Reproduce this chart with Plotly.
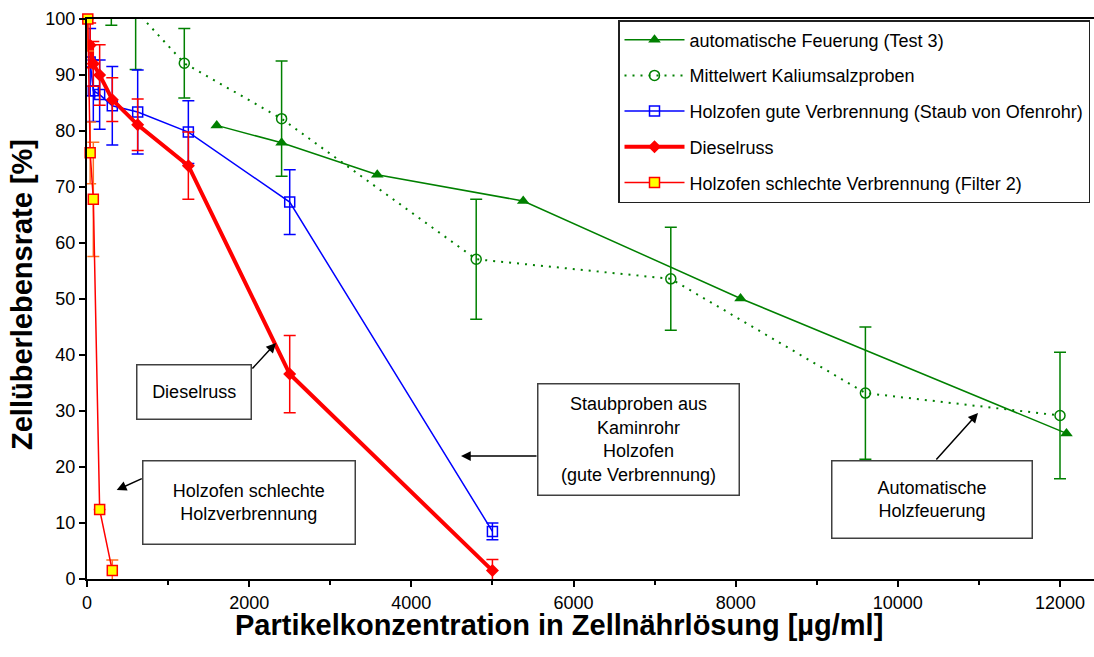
import plotly.graph_objects as go

# ---------------- data ----------------
auto_x = [1600, 2400, 3580, 5380, 8060, 12080]
auto_y = [81.0, 77.9, 72.2, 67.5, 50.1, 26.0]

kal_x = [300, 600, 1200, 2400, 4800, 7200, 9600, 12000]
kal_y = [105.0, 101.5, 92.1, 82.2, 57.1, 53.6, 33.2, 29.2]
kal_err = [6.1, 10.5, 6.2, 10.3, 10.7, 9.2, 11.8, 11.3]

gut_x = [39, 78, 156, 312, 625, 1250, 2500, 5000]
gut_y = [92.3, 87.2, 86.5, 84.5, 83.4, 79.8, 67.3, 8.5]
gut_err = [6.0, 5.5, 6.2, 7.0, 7.5, 5.6, 5.8, 1.5]

diesel_x = [39, 78, 156, 312, 625, 1250, 2500, 5000]
diesel_y = [95.3, 92.0, 90.0, 85.6, 81.1, 73.8, 36.6, 1.5]
diesel_err = [4.0, 4.0, 5.4, 3.9, 4.6, 6.0, 6.9, 2.0]

schl_x = [10, 39, 78, 156, 312]
schl_y = [100.0, 76.1, 67.8, 12.4, 1.5]
schl_err_plus = [0.0, 5.5, 10.2, 0.0, 1.9]
schl_err_minus = [5.7, 5.5, 10.2, 0.0, 1.9]

names = [
    "automatische Feuerung (Test 3)",
    "Mittelwert Kaliumsalzproben",
    "Holzofen gute Verbrennung (Staub von Ofenrohr)",
    "Dieselruss",
    "Holzofen schlechte Verbrennung (Filter 2)",
]

x_ticks = [0, 2000, 4000, 6000, 8000, 10000, 12000]
x_ticktext = ["0", "2000", "4000", "6000", "8000", "10000", "12000"]
y_ticks = [0, 10, 20, 30, 40, 50, 60, 70, 80, 90, 100]

x_title = "Partikelkonzentration in Zellnährlösung [µg/ml]"
y_title = "Zellüberlebensrate [%]"

# ---------------- layout helpers ----------------
W, H = 1094, 657
L, R, T, B = 87, 0, 19, 78
plot_w = W - L - R
plot_h = H - T - B
FONT = "Liberation Sans, Arial, sans-serif"


def px(xp):
    return (xp - L) / plot_w


def py(yp):
    return (H - B - yp) / plot_h


GREEN = "#008000"
BLUE = "#0000FF"
RED = "#FF0000"
ORANGE = "#FF7020"

fig = go.Figure()

fig.add_trace(go.Scatter(
    x=auto_x, y=auto_y, name=names[0], mode="lines+markers", legendgroup="a",
    line=dict(color=GREEN, width=1.5),
    marker=dict(symbol="triangle-up", size=11, color=GREEN),
))
fig.add_trace(go.Scatter(
    x=kal_x, y=kal_y, name=names[1], mode="lines+markers", legendgroup="b",
    line=dict(color=GREEN, width=2, dash="2px,6px"),
    marker=dict(symbol="circle-open", size=10, color=GREEN, line=dict(width=1.5)),
    error_y=dict(type="data", array=kal_err, visible=True, color=GREEN, thickness=1.5, width=6),
))
fig.add_trace(go.Scatter(
    x=gut_x, y=gut_y, name=names[2], mode="lines+markers", legendgroup="c",
    line=dict(color=BLUE, width=1.5),
    marker=dict(symbol="square-open", size=10, color=BLUE, line=dict(width=1.5)),
    error_y=dict(type="data", array=gut_err, visible=True, color=BLUE, thickness=1.5, width=6),
))
fig.add_trace(go.Scatter(
    x=diesel_x, y=diesel_y, name=names[3], mode="lines+markers", legendgroup="d",
    line=dict(color=RED, width=4),
    marker=dict(symbol="diamond", size=10, color=RED),
    error_y=dict(type="data", array=diesel_err, visible=True, color=RED, thickness=1.5, width=6),
))
fig.add_trace(go.Scatter(
    x=schl_x, y=schl_y, name=names[4], mode="lines+markers", legendgroup="e",
    line=dict(color=RED, width=1.5), cliponaxis=False,
    marker=dict(symbol="square", size=10, color="#FFFF00", line=dict(color=RED, width=1.5)),
    error_y=dict(type="data", symmetric=False, array=schl_err_plus, arrayminus=schl_err_minus,
                 visible=True, color=ORANGE, thickness=1.5, width=6),
))

annotations = []
# axis titles
annotations.append(dict(
    text="<b>%s</b>" % x_title, x=px(559), y=py(625), xref="paper", yref="paper",
    xanchor="center", yanchor="middle",
    showarrow=False, font=dict(size=29, color="black", family=FONT),
))
annotations.append(dict(
    text="<b>%s</b>" % y_title, x=px(22), y=py(295), xref="paper", yref="paper",
    xanchor="center", yanchor="middle",
    showarrow=False, textangle=-90, font=dict(size=29, color="black", family=FONT),
))

# text boxes
boxes = [
    ("Dieselruss", 137.7, 251, 365.7, 418.3),
    ("Holzofen schlechte<br>Holzverbrennung", 143.3, 354, 461.7, 544),
    ("Staubproben aus<br>Kaminrohr<br>Holzofen<br>(gute Verbrennung)", 538, 738, 384, 494),
    ("Automatische<br>Holzfeuerung", 832, 1031, 461, 537),
]
for txt, x0, x1, y0, y1 in boxes:
    annotations.append(dict(
        text=txt, x=px((x0 + x1) / 2), y=py((y0 + y1) / 2), xref="paper", yref="paper",
        xanchor="center", yanchor="middle", showarrow=False,
        width=x1 - x0, height=y1 - y0, borderpad=0,
        bordercolor="#404040", borderwidth=1.5, bgcolor="white",
        font=dict(size=18, color="black", family=FONT),
    ))

# arrows (tail -> head)
arrows = [
    ((251, 370), (276, 343)),
    ((143.3, 478), (116.7, 490)),
    ((538, 456), (461, 456)),
    ((935, 461), (978, 413)),
]
for (tx, ty), (hx, hy) in arrows:
    annotations.append(dict(
        text="", x=px(hx), y=py(hy), xref="paper", yref="paper",
        ax=tx - hx, ay=ty - hy, showarrow=True,
        arrowhead=2, arrowsize=1.3, arrowwidth=1.5, arrowcolor="black",
    ))

x_max = 12000 * plot_w / (1060 - L)

fig.update_layout(
    width=W, height=H,
    margin=dict(l=L, r=R, t=T, b=B, autoexpand=False),
    paper_bgcolor="white", plot_bgcolor="white",
    font=dict(family=FONT, size=18, color="black"),
    showlegend=True,
    legend=dict(
        x=px(618), y=py(20), xanchor="left", yanchor="top",
        bordercolor="#202020", borderwidth=1.5, bgcolor="white",
        font=dict(size=18, family=FONT), tracegroupgap=9.3, itemwidth=60,
    ),
    annotations=annotations,
    xaxis=dict(
        range=[0, x_max], showline=True, linecolor="black", linewidth=2, mirror=True,
        ticks="outside", ticklen=6, tickwidth=1.5, tickcolor="black",
        tickvals=x_ticks, ticktext=x_ticktext,
        showgrid=False, zeroline=False,
        minor=dict(tickvals=[1000, 3000, 5000, 7000, 9000, 11000], ticks="outside", ticklen=4, tickcolor="black"),
        tickfont=dict(size=18, family=FONT),
    ),
    yaxis=dict(
        range=[0, 100], showline=True, linecolor="black", linewidth=2,
        ticks="outside", ticklen=6, tickwidth=1.5, tickcolor="black",
        tickvals=y_ticks,
        showgrid=False, zeroline=False,
        tickfont=dict(size=18, family=FONT),
    ),
)

fig.write_html("out.html", config={"displayModeBar": False},
               post_script="document.body.style.margin='0';")
